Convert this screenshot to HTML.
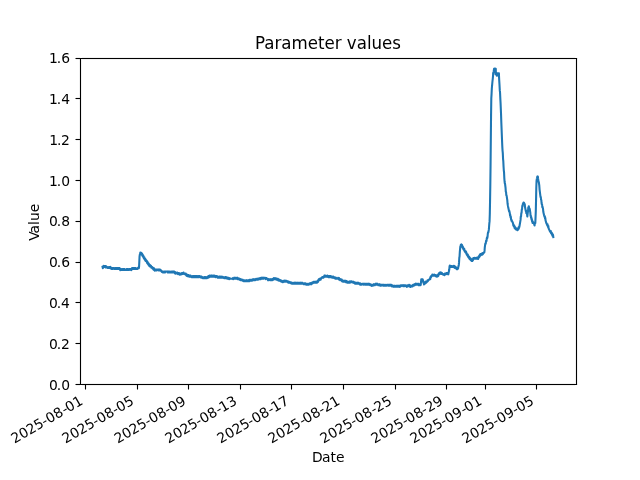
<!DOCTYPE html>
<html lang="en">
<head>
<meta charset="utf-8">
<title>Parameter values</title>
<style>
html,body{margin:0;padding:0;background:#ffffff;width:640px;height:480px;overflow:hidden}
svg{display:block}
text{font-family:"DejaVu Sans","Liberation Sans",sans-serif;fill:#000000;white-space:pre}
.t10{font-size:13.889px}
.t12{font-size:16.667px}
</style>
</head>
<body>
<svg width="640" height="480" viewBox="0 0 640 480" role="img" aria-label="Parameter values">
<rect x="0" y="0" width="640" height="480" fill="#ffffff"/>
<defs><clipPath id="axclip"><rect x="80" y="57.6" width="496" height="326.4"/></clipPath></defs>
<g clip-path="url(#axclip)"><path d="M102.55 266.8L102.8 268.13L103.05 267.62L103.3 267.62L103.55 265.89L103.8 265.96L104.05 266.93L104.3 266.93L104.55 265.96L104.8 265.96L105.05 266.93L105.3 265.96L105.55 265.93L105.8 267.51L106.05 266.4L106.3 266.41L106.55 267.45L106.8 267.44L107.05 266.98L107.3 266.98L107.55 267.95L107.8 267.95L108.05 267.95L108.3 267.95L108.55 267.95L108.8 266.98L109.05 266.98L109.3 267.95L109.55 266.98L109.8 266.98L110.05 266.98L110.3 266.89L110.55 268.43L110.8 267.38L111.05 267.96L111.3 268L111.55 268.97L111.8 268L112.05 268.97L112.3 268L112.55 268L112.8 268.97L113.05 268L113.3 268L113.55 268L113.8 268L114.05 268L114.3 268.97L114.55 268.97L114.8 268.97L115.05 268L115.3 268.97L115.55 268L115.8 268.97L116.05 268.97L116.3 268L116.55 268.97L116.8 268L117.05 268L117.3 268.97L117.55 268L117.8 268.97L118.05 268L118.3 268L118.55 268L118.8 268.97L119.05 268L119.3 268.97L119.55 268L119.8 269.18L120.05 269.8L120.3 270.18L120.55 269.02L120.8 269.02L121.05 269.99L121.3 269.99L121.55 269.99L121.8 269.02L122.05 269.02L122.3 269.02L122.55 269.02L122.8 269.99L123.05 269.99L123.3 269.99L123.55 269.02L123.8 269.99L124.05 269.99L124.3 269.02L124.55 269.02L124.8 269.99L125.05 269.99L125.3 269.99L125.55 269.99L125.8 269.99L126.05 269.99L126.3 269.99L126.55 269.02L126.8 269.02L127.05 269.99L127.3 269.99L127.55 269.02L127.8 269.99L128.05 269.99L128.3 269.99L128.55 269.99L128.8 269.02L129.05 269.99L129.3 269.99L129.55 269.02L129.8 269.02L130.05 269.02L130.3 269.02L130.55 269.02L130.8 269.99L131.05 269.99L131.3 270.18L131.55 269.8L131.8 269.18L132.05 268L132.3 268L132.55 268.97L132.8 268L133.05 268.97L133.3 268L133.55 268.97L133.8 268.97L134.05 268L134.3 268.97L134.55 268L134.8 268.97L135.05 268.97L135.3 268L135.55 268L135.8 268L136.05 268.97L136.3 268.97L136.55 268.97L136.8 268.97L137.05 268.97L137.3 268.97L137.55 268.97L137.8 268L138.05 267.98L138.3 267.46L138.55 267.27L138.8 268.3L139.05 267.05L139.3 261.87L139.55 256.41L139.8 254.74L140.05 254.4L140.3 252.63L140.55 252.7L140.8 253.67L141.05 252.7L141.3 254.2L141.55 254.27L141.8 254.79L142.05 253.59L142.3 255.6L142.55 254.41L142.8 256.41L143.05 255.22L143.3 255.62L143.55 257.63L143.8 258.04L144.05 258.44L144.3 257.25L144.55 259.26L144.8 259.66L145.05 258.47L145.3 258.88L145.55 260.87L145.8 261.21L146.05 259.94L146.3 260.28L146.55 260.62L146.8 260.96L147.05 262.89L147.3 261.63L147.55 261.97L147.8 263.91L148.05 264.25L148.3 262.98L148.55 264.92L148.8 263.66L149.05 265.57L149.3 264.4L149.55 266.06L149.8 264.79L150.05 266.57L150.3 265.3L150.55 266.57L150.8 265.81L151.05 265.81L151.3 267.59L151.55 267.59L151.8 266.83L152.05 266.83L152.3 268.1L152.55 268.61L152.8 268.61L153.05 267.85L153.3 267.85L153.55 269.63L153.8 269.63L154.05 268.36L154.3 270.13L154.55 268.9L154.8 270.62L155.05 269.45L155.3 269.52L155.55 270.5L155.8 270.5L156.05 270.5L156.3 269.53L156.55 270.5L156.8 270.5L157.05 269.53L157.3 269.53L157.55 269.53L157.8 269.53L158.05 269.53L158.3 269.53L158.55 270.5L158.8 269.53L159.05 270.5L159.3 270.5L159.55 269.53L159.8 270.5L160.05 270.57L160.3 269.87L160.55 269.87L160.8 270.38L161.05 270.38L161.3 270.91L161.55 271L161.8 272.04L162.05 272.04L162.3 271.56L162.55 271.56L162.8 272.55L163.05 271.56L163.3 272.55L163.55 272.54L163.8 272.54L164.05 272.54L164.3 271.57L164.55 271.57L164.8 271.57L165.05 272.54L165.3 271.57L165.55 271.57L165.8 271.57L166.05 271.57L166.3 271.57L166.55 271.57L166.8 271.57L167.05 271.57L167.3 271.57L167.55 272.54L167.8 271.57L168.05 272.54L168.3 272.54L168.55 271.57L168.8 272.54L169.05 272.54L169.3 272.54L169.55 271.57L169.8 272.54L170.05 272.54L170.3 272.54L170.55 272.54L170.8 272.54L171.05 271.57L171.3 272.54L171.55 272.54L171.8 272.54L172.05 271.57L172.3 272.54L172.55 272.54L172.8 271.57L173.05 271.57L173.3 271.57L173.55 272.54L173.8 271.57L174.05 271.57L174.3 271.57L174.55 272.59L174.8 273.18L175.05 271.95L175.3 273.67L175.55 273.58L175.8 272.59L176.05 273.56L176.3 273.57L176.55 273.57L176.8 273.57L177.05 273.57L177.3 272.58L177.55 273.09L177.8 274.08L178.05 273.09L178.3 273.09L178.55 274.08L178.8 273.09L179.05 274.08L179.3 274.08L179.55 274.59L179.8 273.6L180.05 274.59L180.3 274.58L180.55 274.58L180.8 273.6L181.05 274.59L181.3 273.6L181.55 274.08L181.8 273.09L182.05 273.09L182.3 274.08L182.55 274.08L182.8 273.09L183.05 274.08L183.3 273.57L183.55 272.58L183.8 273.57L184.05 273.56L184.3 273.64L184.55 274.18L184.8 274.18L185.05 274.18L185.3 273.5L185.55 273.5L185.8 273.5L186.05 275.2L186.3 275.2L186.55 275.71L186.8 274.52L187.05 274.53L187.3 276.15L187.55 276.13L187.8 276.13L188.05 276.13L188.3 275.12L188.55 276.13L188.8 276.13L189.05 276.64L189.3 275.63L189.55 275.63L189.8 275.63L190.05 276.64L190.3 276.64L190.55 275.63L190.8 276.15L191.05 276.16L191.3 276.16L191.55 277.12L191.8 277.12L192.05 277.12L192.3 276.16L192.55 277.12L192.8 277.12L193.05 277.12L193.3 276.16L193.55 277.12L193.8 276.16L194.05 276.16L194.3 277.12L194.55 276.16L194.8 276.16L195.05 277.12L195.3 276.16L195.55 276.16L195.8 277.12L196.05 276.16L196.3 276.16L196.55 276.16L196.8 277.12L197.05 276.16L197.3 277.12L197.55 276.16L197.8 277.12L198.05 277.12L198.3 277.13L198.55 276.16L198.8 276.15L199.05 277.14L199.3 277.14L199.55 276.15L199.8 276.15L200.05 276.66L200.3 276.66L200.55 276.66L200.8 276.66L201.05 277.65L201.3 276.66L201.55 277.65L201.8 276.66L202.05 277.17L202.3 277.18L202.55 277.18L202.8 278.14L203.05 277.18L203.3 277.18L203.55 278.14L203.8 278.14L204.05 278.14L204.3 278.14L204.55 277.18L204.8 278.14L205.05 277.18L205.3 278.14L205.55 277.18L205.8 278.14L206.05 277.18L206.3 277.18L206.55 277.18L206.8 278.14L207.05 278.15L207.3 277.16L207.55 277.69L207.8 276.62L208.05 277.69L208.3 277.69L208.55 276.11L208.8 277.18L209.05 277.18L209.3 277.18L209.55 275.61L209.8 276.62L210.05 276.62L210.3 276.62L210.55 276.62L210.8 275.65L211.05 276.62L211.3 275.65L211.55 275.65L211.8 276.62L212.05 275.65L212.3 276.62L212.55 276.62L212.8 275.65L213.05 275.65L213.3 276.62L213.55 276.62L213.8 275.65L214.05 276.62L214.3 276.62L214.55 276.62L214.8 275.65L215.05 276.63L215.3 277.14L215.55 277.14L215.8 276.15L216.05 276.15L216.3 276.15L216.55 276.15L216.8 276.15L217.05 276.15L217.3 276.66L217.55 277.65L217.8 276.66L218.05 277.65L218.3 277.65L218.55 276.67L218.8 276.67L219.05 277.64L219.3 277.64L219.55 276.67L219.8 277.64L220.05 276.67L220.3 277.64L220.55 276.67L220.8 277.64L221.05 277.64L221.3 277.64L221.55 276.67L221.8 277.64L222.05 277.64L222.3 276.67L222.55 276.67L222.8 276.67L223.05 277.64L223.3 277.18L223.55 277.18L223.8 277.18L224.05 278.15L224.3 278.15L224.55 277.18L224.8 277.18L225.05 278.15L225.3 277.18L225.55 278.15L225.8 277.18L226.05 278.16L226.3 277.16L226.55 278.17L226.8 278.17L227.05 278.17L227.3 278.68L227.55 277.67L227.8 278.68L228.05 277.67L228.3 277.67L228.55 277.67L228.8 278.18L229.05 279.19L229.3 279.19L229.55 278.18L229.8 278.18L230.05 278.18L230.3 278.69L230.55 278.69L230.8 278.69L231.05 278.69L231.3 278.69L231.55 278.71L231.8 278.69L232.05 278.68L232.3 278.68L232.55 278.68L232.8 278.17L233.05 279.2L233.3 279.2L233.55 278.17L233.8 278.17L234.05 278.69L234.3 277.66L234.55 278.69L234.8 278.66L235.05 278.66L235.3 277.69L235.55 277.69L235.8 277.69L236.05 278.66L236.3 278.66L236.55 278.66L236.8 278.66L237.05 278.66L237.3 277.68L237.55 279.19L237.8 278.18L238.05 278.18L238.3 278.18L238.55 278.18L238.8 278.69L239.05 278.69L239.3 279.7L239.55 278.69L239.8 278.69L240.05 279.7L240.3 279.2L240.55 280.21L240.8 280.21L241.05 279.2L241.3 280.21L241.55 280.21L241.8 279.71L242.05 279.71L242.3 279.71L242.55 280.72L242.8 279.71L243.05 280.72L243.3 280.22L243.55 281.21L243.8 281.21L244.05 281.21L244.3 281.21L244.55 280.25L244.8 280.25L245.05 281.21L245.3 281.21L245.55 281.21L245.8 281.21L246.05 280.25L246.3 281.21L246.55 280.25L246.8 281.21L247.05 281.21L247.3 281.21L247.55 281.21L247.8 280.25L248.05 281.21L248.3 280.24L248.55 280.24L248.8 280.24L249.05 280.24L249.3 281.21L249.55 279.73L249.8 280.7L250.05 280.7L250.3 280.7L250.55 279.73L250.8 279.73L251.05 280.7L251.3 280.7L251.55 279.73L251.8 279.73L252.05 280.7L252.3 279.73L252.55 280.19L252.8 279.22L253.05 279.22L253.3 280.19L253.55 279.22L253.8 280.19L254.05 280.19L254.3 279.22L254.55 279.22L254.8 279.22L255.05 280.19L255.3 280.19L255.55 279.22L255.8 279.68L256.05 278.71L256.3 278.71L256.55 279.68L256.8 279.68L257.05 279.68L257.3 278.71L257.55 279.68L257.8 278.71L258.05 279.68L258.3 279.17L258.55 279.17L258.8 279.17L259.05 278.2L259.3 278.2L259.55 279.17L259.8 278.2L260.05 279.17L260.3 279.17L260.55 278.2L260.8 279.17L261.05 277.69L261.3 278.66L261.55 277.69L261.8 277.69L262.05 277.69L262.3 277.69L262.55 278.66L262.8 277.69L263.05 278.66L263.3 277.69L263.55 278.66L263.8 278.66L264.05 277.69L264.3 277.69L264.55 277.69L264.8 277.69L265.05 277.69L265.3 277.69L265.55 278.18L265.8 279.21L266.05 278.16L266.3 278.16L266.55 278.16L266.8 278.67L267.05 278.67L267.3 278.67L267.55 278.67L267.8 278.67L268.05 280.23L268.3 280.22L268.55 279.22L268.8 280.19L269.05 279.22L269.3 279.22L269.55 279.22L269.8 279.22L270.05 279.22L270.3 280.19L270.55 279.22L270.8 280.19L271.05 280.19L271.3 279.22L271.55 280.19L271.8 280.21L272.05 279.19L272.3 280.22L272.55 279.71L272.8 278.68L273.05 278.68L273.3 279.71L273.55 278.68L273.8 278.17L274.05 279.2L274.3 278.17L274.55 278.18L274.8 278.2L275.05 278.19L275.3 279.18L275.55 278.19L275.8 278.19L276.05 278.19L276.3 279.69L276.55 279.69L276.8 278.7L277.05 278.7L277.3 279.69L277.55 279.69L277.8 278.69L278.05 280.23L278.3 280.24L278.55 279.17L278.8 280.24L279.05 280.75L279.3 279.68L279.55 279.68L279.8 279.68L280.05 280.19L280.3 280.19L280.55 281.26L280.8 280.19L281.05 280.7L281.3 281.77L281.55 281.77L281.8 280.7L282.05 281.22L282.3 281.26L282.55 282.23L282.8 282.23L283.05 282.23L283.3 281.26L283.55 280.75L283.8 281.72L284.05 280.75L284.3 281.72L284.55 280.75L284.8 281.72L285.05 280.75L285.3 281.72L285.55 280.75L285.8 280.75L286.05 280.75L286.3 280.73L286.55 280.73L286.8 281.24L287.05 281.24L287.3 282.25L287.55 282.25L287.8 281.24L288.05 281.24L288.3 282.25L288.55 282.76L288.8 281.75L289.05 281.75L289.3 281.75L289.55 282.76L289.8 282.76L290.05 282.26L290.3 282.26L290.55 283.27L290.8 282.26L291.05 282.26L291.3 283.27L291.55 282.77L291.8 283.78L292.05 283.78L292.3 283.78L292.55 283.78L292.8 282.79L293.05 282.79L293.3 283.76L293.55 283.76L293.8 283.76L294.05 282.79L294.3 283.76L294.55 282.79L294.8 282.79L295.05 283.76L295.3 282.79L295.55 283.76L295.8 282.79L296.05 282.79L296.3 283.76L296.55 283.76L296.8 282.79L297.05 283.76L297.3 282.79L297.55 282.79L297.8 282.79L298.05 282.79L298.3 283.76L298.55 283.76L298.8 282.79L299.05 283.76L299.3 283.76L299.55 283.76L299.8 282.79L300.05 283.76L300.3 282.79L300.55 282.79L300.8 283.76L301.05 282.79L301.3 282.79L301.55 282.79L301.8 282.79L302.05 283.76L302.3 282.79L302.55 282.79L302.8 283.76L303.05 283.76L303.3 283.76L303.55 283.76L303.8 284.28L304.05 284.28L304.3 283.29L304.55 283.29L304.8 284.28L305.05 284.28L305.3 283.29L305.55 284.28L305.8 283.8L306.05 284.79L306.3 284.79L306.55 283.8L306.8 283.8L307.05 283.81L307.3 283.81L307.55 284.78L307.8 284.78L308.05 284.78L308.3 283.81L308.55 284.78L308.8 284.78L309.05 283.81L309.3 283.81L309.55 284.27L309.8 283.3L310.05 284.27L310.3 283.3L310.55 284.27L310.8 284.28L311.05 283.27L311.3 284.32L311.55 282.74L311.8 283.81L312.05 283.81L312.3 282.74L312.55 282.23L312.8 283.3L313.05 282.23L313.3 282.24L313.55 281.76L313.8 281.77L314.05 282.74L314.3 282.74L314.55 281.77L314.8 281.77L315.05 281.77L315.3 282.74L315.55 281.77L315.8 281.77L316.05 282.74L316.3 281.77L316.55 282.74L316.8 282.74L317.05 282.74L317.3 281.63L317.55 281.04L317.8 280.71L318.05 281.97L318.3 280.03L318.55 279.69L318.8 279.36L319.05 279.14L319.3 280.26L319.55 279.17L319.8 279.73L320.05 278.66L320.3 279.73L320.55 279.73L320.8 279.22L321.05 278.15L321.3 278.15L321.55 278.11L321.8 277.54L322.05 277.53L322.3 277.02L322.55 277.02L322.8 277.02L323.05 277.8L323.3 277.8L323.55 277.29L323.8 277.29L324.05 276.68L324.3 275.65L324.55 275.65L324.8 276.62L325.05 275.65L325.3 276.62L325.55 276.62L325.8 275.65L326.05 276.62L326.3 276.62L326.55 276.62L326.8 276.62L327.05 276.62L327.3 275.65L327.55 275.65L327.8 276.16L328.05 276.16L328.3 277.13L328.55 276.16L328.8 276.16L329.05 276.16L329.3 277.13L329.55 276.16L329.8 276.16L330.05 277.13L330.3 276.16L330.55 276.15L330.8 277.14L331.05 276.15L331.3 277.14L331.55 277.14L331.8 276.66L332.05 277.65L332.3 276.66L332.55 277.65L332.8 277.65L333.05 276.66L333.3 276.66L333.55 277.65L333.8 277.17L334.05 277.17L334.3 278.16L334.55 277.17L334.8 277.17L335.05 278.16L335.3 278.16L335.55 278.67L335.8 278.67L336.05 277.68L336.3 278.66L336.55 278.66L336.8 278.66L337.05 278.66L337.3 278.66L337.55 278.66L337.8 278.66L338.05 277.69L338.3 278.2L338.55 278.17L338.8 279.24L339.05 278.13L339.3 279.75L339.55 279.75L339.8 279.75L340.05 279.75L340.3 280.26L340.55 279.15L340.8 280.26L341.05 280.26L341.3 279.66L341.55 279.66L341.8 279.66L342.05 281.28L342.3 280.17L342.55 280.17L342.8 281.25L343.05 281.72L343.3 280.75L343.55 280.75L343.8 280.75L344.05 280.75L344.3 280.75L344.55 281.72L344.8 280.75L345.05 281.72L345.3 281.72L345.55 280.73L345.8 280.72L346.05 282.26L346.3 281.23L346.55 282.26L346.8 281.23L347.05 282.26L347.3 282.77L347.55 282.77L347.8 281.74L348.05 281.74L348.3 282.76L348.55 282.74L348.8 281.75L349.05 281.75L349.3 282.76L349.55 282.76L349.8 282.76L350.05 281.24L350.3 282.25L350.55 282.25L350.8 282.25L351.05 282.25L351.3 281.24L351.55 281.26L351.8 282.27L352.05 282.28L352.3 282.28L352.55 282.28L352.8 281.72L353.05 282.79L353.3 281.72L353.55 281.72L353.8 282.23L354.05 282.23L354.3 283.3L354.55 282.23L354.8 282.74L355.05 283.81L355.3 282.77L355.55 283.76L355.8 282.79L356.05 283.75L356.3 283.75L356.55 283.75L356.8 282.79L357.05 283.75L357.3 282.79L357.55 282.79L357.8 282.79L358.05 283.75L358.3 282.79L358.55 282.78L358.8 283.79L359.05 283.27L359.3 283.27L359.55 284.3L359.8 284.3L360.05 283.27L360.3 284.81L360.55 284.81L360.8 284.81L361.05 284.78L361.3 284.78L361.55 284.78L361.8 283.81L362.05 283.81L362.3 283.81L362.55 283.81L362.8 283.81L363.05 283.81L363.3 284.78L363.55 283.81L363.8 283.81L364.05 283.81L364.3 283.81L364.55 283.81L364.8 284.78L365.05 283.81L365.3 283.81L365.55 283.81L365.8 284.78L366.05 284.78L366.3 283.81L366.55 283.81L366.8 283.81L367.05 284.78L367.3 284.78L367.55 283.81L367.8 283.81L368.05 284.78L368.3 284.78L368.55 283.81L368.8 284.78L369.05 283.81L369.3 283.8L369.55 284.79L369.8 284.31L370.05 285.3L370.3 285.3L370.55 284.31L370.8 285.3L371.05 285.3L371.3 285.3L371.55 285.81L371.8 284.82L372.05 284.82L372.3 285.8L372.55 285.81L372.8 285.81L373.05 285.3L373.3 285.3L373.55 284.31L373.8 285.3L374.05 284.31L374.3 285.3L374.55 285.3L374.8 285.3L375.05 284.79L375.3 284.79L375.55 283.8L375.8 284.79L376.05 283.8L376.3 284.79L376.55 284.78L376.8 283.8L377.05 284.8L377.3 283.79L377.55 284.8L377.8 284.8L378.05 284.8L378.3 285.31L378.55 285.31L378.8 284.3L379.05 284.3L379.3 285.31L379.55 284.3L379.8 284.81L380.05 285.82L380.3 285.81L380.55 284.83L380.8 284.83L381.05 285.8L381.3 284.83L381.55 284.83L381.8 284.83L382.05 284.83L382.3 284.83L382.55 284.83L382.8 284.83L383.05 285.8L383.3 284.83L383.55 284.83L383.8 284.83L384.05 284.83L384.3 285.8L384.55 285.8L384.8 285.8L385.05 284.83L385.3 284.83L385.55 285.8L385.8 285.8L386.05 285.8L386.3 285.8L386.55 285.8L386.8 284.83L387.05 284.83L387.3 284.83L387.55 284.83L387.8 284.83L388.05 285.8L388.3 285.8L388.55 284.83L388.8 284.83L389.05 285.8L389.3 285.8L389.55 284.83L389.8 285.8L390.05 285.8L390.3 284.83L390.55 285.8L390.8 285.8L391.05 284.82L391.3 284.8L391.55 285.83L391.8 286.34L392.05 285.31L392.3 285.31L392.55 286.34L392.8 286.34L393.05 286.34L393.3 285.82L393.55 285.82L393.8 286.85L394.05 286.83L394.3 286.82L394.55 285.85L394.8 286.81L395.05 285.85L395.3 286.81L395.55 286.81L395.8 286.81L396.05 286.81L396.3 286.81L396.55 285.85L396.8 286.81L397.05 285.85L397.3 285.85L397.55 285.85L397.8 286.81L398.05 285.85L398.3 285.85L398.55 286.81L398.8 285.85L399.05 285.85L399.3 285.84L399.55 286.84L399.8 286.84L400.05 286.84L400.3 285.83L400.55 285.32L400.8 286.33L401.05 286.32L401.3 285.34L401.55 285.34L401.8 285.34L402.05 285.34L402.3 285.34L402.55 285.34L402.8 285.34L403.05 286.31L403.3 285.34L403.55 286.31L403.8 286.31L404.05 285.34L404.3 286.31L404.55 286.31L404.8 285.34L405.05 285.34L405.3 285.34L405.55 285.34L405.8 285.85L406.05 285.85L406.3 285.85L406.55 286.82L406.8 286.86L407.05 286.37L407.3 285.28L407.55 285.28L407.8 286.37L408.05 285.86L408.3 285.84L408.55 285.8L408.8 285.85L409.05 284.78L409.3 286.36L409.55 285.29L409.8 286.36L410.05 285.29L410.3 286.87L410.55 286.87L410.8 286.85L411.05 285.85L411.3 285.8L411.55 285.8L411.8 285.8L412.05 286.36L412.3 286.36L412.55 285.29L412.8 286.36L413.05 284.78L413.3 284.78L413.55 284.78L413.8 284.78L414.05 285.34L414.3 284.27L414.55 284.27L414.8 285.34L415.05 284.83L415.3 283.76L415.55 284.83L415.8 283.77L416.05 284.27L416.3 283.8L416.55 283.8L416.8 284.79L417.05 284.79L417.3 284.79L417.55 283.8L417.8 283.8L418.05 284.79L418.3 284.79L418.55 283.8L418.8 285.3L419.05 285.3L419.3 284.31L419.55 284.31L419.8 285.3L420.05 285.3L420.3 285.3L420.55 285.3L420.8 284.2L421.05 281.7L421.3 279.2L421.55 280.7L421.8 279.73L422.05 279.22L422.3 280.19L422.55 279.22L422.8 280.7L423.05 280.12L423.3 282.75L423.55 282.18L423.8 283.2L424.05 284.42L424.3 283.15L424.55 282.64L424.8 283.91L425.05 283.4L425.3 282.13L425.55 282.89L425.8 281.62L426.05 282.89L426.3 282.38L426.55 282.38L426.8 281.87L427.05 281.86L427.3 281.3L427.55 280.19L427.8 281.26L428.05 280.19L428.3 280.19L428.55 279.68L428.8 279.68L429.05 279.68L429.3 279.68L429.55 279.12L429.8 278.82L430.05 278.18L430.3 279.14L430.55 276.9L430.8 276.25L431.05 277.21L431.3 276.57L431.55 275.93L431.8 275.61L432.05 275.6L432.3 274.63L432.55 275.6L432.8 275.6L433.05 275.6L433.3 275.6L433.55 275.6L433.8 275.6L434.05 274.63L434.3 274.63L434.55 275.6L434.8 275.63L435.05 275.67L435.3 275.67L435.55 276.18L435.8 275.07L436.05 276.18L436.3 275.58L436.55 275.58L436.8 276.69L437.05 276.65L437.3 276.09L437.55 275.29L437.8 274.95L438.05 276.21L438.3 275.87L438.55 273.93L438.8 273.59L439.05 273.25L439.3 272.91L439.55 274.12L439.8 272.55L440.05 272.59L440.3 273.56L440.55 272.59L440.8 273.56L441.05 272.59L441.3 274.07L441.55 274.07L441.8 273.1L442.05 273.1L442.3 274.11L442.55 274.14L442.8 274.14L443.05 274.65L443.3 274.65L443.55 274.65L443.8 274.05L444.05 275.09L444.3 275.12L444.55 275.14L444.8 273.56L445.05 273.56L445.3 273.56L445.55 273.56L445.8 274.12L446.05 274.12L446.3 274.12L446.55 273.1L446.8 274.07L447.05 274.08L447.3 273.09L447.55 274.08L447.8 273.09L448.05 274.09L448.3 274.3L448.55 273.05L448.8 271.8L449.05 270.55L449.3 269.3L449.55 266.45L449.8 265.45L450.05 266.93L450.3 266.93L450.55 266.93L450.8 265.96L451.05 265.96L451.3 265.96L451.55 266.93L451.8 265.96L452.05 265.96L452.3 266.93L452.55 266.93L452.8 266.93L453.05 266.93L453.3 265.96L453.55 266.96L453.8 265.87L454.05 267.02L454.3 267.53L454.55 267.53L454.8 266.38L455.05 268.04L455.3 266.89L455.55 266.89L455.8 267.4L456.05 267.4L456.3 268.55L456.55 269.06L456.8 267.91L457.05 269.02L457.3 267.98L457.55 269.13L457.8 268.88L458.05 268.63L458.3 266.9L458.55 266.14L458.8 264.94L459.05 262.15L459.3 257.75L459.55 256.56L459.8 252.16L460.05 249.36L460.3 246.57L460.55 246.86L460.8 244.98L461.05 244.67L461.3 244.36L461.55 245.51L461.8 245.97L462.05 244.9L462.3 247.03L462.55 247.56L462.8 246.49L463.05 248.54L463.3 248.95L463.55 249.35L463.8 249.75L464.05 248.55L464.3 248.96L464.55 250.96L464.8 251.36L465.05 251.77L465.3 252.17L465.55 252.57L465.8 251.38L466.05 251.78L466.3 252.18L466.55 254.18L466.8 254.58L467.05 254.98L467.3 255.38L467.55 254.18L467.8 254.58L468.05 256.58L468.3 256.98L468.55 257.38L468.8 257.78L469.05 256.58L469.3 256.98L469.55 258.98L469.8 257.8L470.05 258.14L470.3 258.14L470.55 259.96L470.8 258.65L471.05 259.16L471.3 259.16L471.55 260.98L471.8 260.91L472.05 260.85L472.3 260.98L472.55 259.03L472.8 260.28L473.05 259.93L473.3 258.01L473.55 258.84L473.8 258.76L474.05 258.76L474.3 258.76L474.55 257.8L474.8 257.8L475.05 258.76L475.3 258.76L475.55 258.76L475.8 258.76L476.05 258.76L476.3 257.8L476.55 257.8L476.8 258.76L477.05 257.8L477.3 258.76L477.55 257.8L477.8 258.81L478.05 259.02L478.3 258.7L478.55 256.72L478.8 256.35L479.05 255.97L479.3 257.2L479.55 255.22L479.8 256.45L480.05 254.47L480.3 254.16L480.55 254.14L480.8 255.24L481.05 254.19L481.3 253.68L481.55 253.68L481.8 254.73L482.05 254.73L482.3 254.22L482.55 253.17L482.8 254.22L483.05 253.17L483.3 253.17L483.55 252.66L483.8 252.66L484.05 252.32L484.3 252.46L484.55 250.66L484.8 247.27L485.05 245.47L485.3 243.67L485.55 244.04L485.8 243.2L486.05 240.75L486.3 241.51L486.55 240.66L486.8 238.22L487.05 237.38L487.3 238.03L487.55 236.68L487.8 233.73L488.05 232.38L488.3 232.62L488.55 231.27L488.8 229.92L489.05 226.97L489.3 223.62L489.55 221.38L489.8 214.2L490.05 201.07L490.3 185.45L490.55 165.8L490.8 140.8L491.05 115.45L491.3 98.3L491.55 94.34L491.8 88.78L492.4 82L492.8 78.5L493.1 75.2L493.15 73L493.7 71.5L494.05 68.8L494.9 68.6L495.5 74.2L495.8 68.9L495.8 71.5L496.2 73.5L496.8 75.8L497.4 73.3L497.9 75.5L498.4 73.2L498.9 73.3L499 76L499.2 80L499.45 84L499.8 90.38L500.05 92.74L500.3 98.3L500.55 102.62L500.8 108.54L501.05 114.46L501.3 122.05L501.55 128.3L501.8 134.55L502.05 140.8L502.3 146.61L502.55 150.68L502.8 153.14L503.05 158.8L503.3 161.2L503.55 166.55L503.8 170.3L504.05 172.45L504.3 177.8L504.55 181.22L504.8 183.3L505.05 183.78L505.3 185.87L505.55 187.95L505.8 191.63L506.05 192.03L506.3 195.27L506.55 195.32L506.8 196.96L507.05 198.61L507.3 200.25L507.55 203.5L507.8 205.14L508.05 206.51L508.3 207.69L508.55 208.87L508.8 210.06L509.05 211.24L509.3 210.82L509.55 212L509.8 213.13L510.05 215.6L510.3 214.88L510.55 217.35L510.8 216.63L511.05 219.1L511.3 219.98L511.55 220.85L511.8 220.13L512.05 221L512.3 221.8L512.55 222.3L512.8 222.8L513.05 223.3L513.3 225.4L513.55 225.9L513.8 226.4L514.05 225.3L514.3 225.8L514.55 227.9L514.8 228.35L515.05 227.03L515.3 227.54L515.55 228.85L515.8 229.36L516.05 229.36L516.3 229.36L516.55 228.56L516.8 228.56L517.05 229.14L517.3 230.24L517.55 230.19L517.8 229.88L518.05 229.57L518.3 229.26L518.55 227.42L518.8 228.64L519.05 226.76L519.3 227.16L519.55 225.73L519.8 224.3L520.05 222.87L520.3 221.44L520.55 219.94L520.8 216.57L521.05 216.39L521.3 213.02L521.55 212.84L521.8 209.46L522.05 209.29L522.3 205.91L522.55 206.44L522.8 204.25L523.05 203.65L523.3 203.05L523.55 202.46L523.8 203.82L524.05 202.86L524.3 203.41L524.55 203.95L524.8 204.5L525.05 207.33L525.3 208.56L525.55 209.79L525.8 211.02L526.05 210.65L526.3 213.17L526.55 212.4L526.8 213.23L527.05 214.07L527.3 216.5L527.55 214.5L527.8 212.5L528.05 210.5L528.3 207.44L528.55 208.4L528.8 206.22L529.05 208.1L529.3 209.1L529.55 208.5L529.8 209.5L530.05 211.08L530.3 212.67L530.55 215.85L530.8 215.53L531.05 217.97L531.3 217.2L531.55 219.63L531.8 218.87L532.05 221.3L532.3 220.53L532.55 222.88L532.8 221.71L533.05 222.13L533.3 222.55L533.55 222.97L533.8 223.39L534.05 223.81L534.3 224.64L534.55 225.52L534.8 223.12L535.05 222.32L535.3 223.12L535.55 217.42L535.8 211.12L536.05 199.88L536.3 187.52L536.55 180.85L536.8 179.06L537.05 178.21L537.3 176.62L537.55 177.73L537.8 176.48L538.05 178.43L538.3 180.08L538.55 181.77L538.8 182.01L539.05 183.86L539.3 185.7L539.55 189.3L539.8 191.3L540.05 193.3L540.3 195.3L540.55 197.09L540.8 196.96L541.05 200.03L541.3 199.9L541.55 202.97L541.8 204.45L542.05 204.32L542.3 207.26L542.55 206.79L542.8 207.93L543.05 209.07L543.3 211.81L543.55 212.95L543.8 214.09L544.05 215.17L544.3 216.04L544.55 216.91L544.8 216.18L545.05 218.65L545.3 217.92L545.55 220.39L545.8 221.26L546.05 222.13L546.3 223L546.55 223.57L546.8 224.15L547.05 224.72L547.3 225.29L547.55 224.27L547.8 226.44L548.05 227.01L548.3 225.99L548.55 228.16L548.8 228.74L549.05 229.31L549.3 229.88L549.55 230.46L549.8 230.97L550.05 231.41L550.3 231.84L550.55 232.28L550.8 231.11L551.05 233.14L551.3 233.58L551.55 232.41L551.8 232.85L552.05 234.88L552.3 233.72L552.55 235.75L552.8 234.58L553.05 235.02L553.3 237.05" fill="none" stroke="#1f77b4" stroke-width="2.083" stroke-linejoin="round" stroke-linecap="square"/></g>
<g stroke="#000000" stroke-width="1.111" fill="none">
<line x1="85.5" y1="384.5" x2="85.5" y2="389.5"/>
<line x1="137.5" y1="384.5" x2="137.5" y2="389.5"/>
<line x1="188.5" y1="384.5" x2="188.5" y2="389.5"/>
<line x1="240.5" y1="384.5" x2="240.5" y2="389.5"/>
<line x1="291.5" y1="384.5" x2="291.5" y2="389.5"/>
<line x1="343.5" y1="384.5" x2="343.5" y2="389.5"/>
<line x1="395.5" y1="384.5" x2="395.5" y2="389.5"/>
<line x1="446.5" y1="384.5" x2="446.5" y2="389.5"/>
<line x1="485.5" y1="384.5" x2="485.5" y2="389.5"/>
<line x1="536.5" y1="384.5" x2="536.5" y2="389.5"/>
<line x1="75.5" y1="384.5" x2="80.5" y2="384.5"/>
<line x1="75.5" y1="343.5" x2="80.5" y2="343.5"/>
<line x1="75.5" y1="302.5" x2="80.5" y2="302.5"/>
<line x1="75.5" y1="262.5" x2="80.5" y2="262.5"/>
<line x1="75.5" y1="221.5" x2="80.5" y2="221.5"/>
<line x1="75.5" y1="180.5" x2="80.5" y2="180.5"/>
<line x1="75.5" y1="139.5" x2="80.5" y2="139.5"/>
<line x1="75.5" y1="98.5" x2="80.5" y2="98.5"/>
<line x1="75.5" y1="58.5" x2="80.5" y2="58.5"/>
<line x1="80.5" y1="57.944" x2="80.5" y2="385.056"/>
<line x1="576.5" y1="57.944" x2="576.5" y2="385.056"/>
<line x1="79.944" y1="384.5" x2="577.056" y2="384.5"/>
<line x1="79.944" y1="58.5" x2="577.056" y2="58.5"/>
</g>
<g fill="#000000" fill-opacity="0.056">
<rect x="82" y="57" width="493" height="1"/>
<rect x="82" y="59" width="493" height="1"/>
<rect x="82" y="383" width="493" height="1"/>
<rect x="82" y="385" width="493" height="1"/>
</g>
<text class="t10" transform="translate(70.075 390)" x="-21.078 -13.266 -8.844">0.0</text>
<text class="t10" transform="translate(70.95 349)" x="-22.078 -14.266 -9.844">0.2</text>
<text class="t10" transform="translate(70.95 308)" x="-22.078 -14.266 -9.844">0.4</text>
<text class="t10" transform="translate(70.075 267)" x="-21.078 -13.266 -8.844">0.6</text>
<text class="t10" transform="translate(70.075 226)" x="-21.078 -13.266 -8.844">0.8</text>
<text class="t10" transform="translate(70.075 186)" x="-21.078 -13.266 -8.844">1.0</text>
<text class="t10" transform="translate(70.325 145)" x="-21.078 -13.266 -9.344">1.2</text>
<text class="t10" transform="translate(70.075 104)" x="-21.078 -13.266 -8.844">1.4</text>
<text class="t10" transform="translate(70.075 63)" x="-21.078 -13.266 -8.844">1.6</text>
<text class="t10" transform="translate(14.23 443.846) rotate(-30)" x="0.25 9.312 17.891 26.469 35.047 40.062 49.141 58.469 62.719 71.547">2025-08-01</text>
<text class="t10" transform="translate(65.387 443.721) rotate(-30)" x="0 9.062 17.641 26.469 34.797 40.062 48.891 57.719 62.469 71.297">2025-08-05</text>
<text class="t10" transform="translate(117.42 443.846) rotate(-30)" x="0.25 9.062 17.641 26.469 35.047 40.062 49.141 57.969 62.469 71.297">2025-08-09</text>
<text class="t10" transform="translate(168.452 443.721) rotate(-30)" x="0 9.062 17.641 26.469 34.797 39.812 48.891 58.219 62.469 71.297">2025-08-13</text>
<text class="t10" transform="translate(220.235 443.846) rotate(-30)" x="0.25 9.312 17.891 26.469 35.047 40.062 49.141 58.469 62.719 71.547">2025-08-17</text>
<text class="t10" transform="translate(271.392 443.846) rotate(-30)" x="0 9.062 17.641 26.469 36.047 40.062 49.141 57.969 62.719 71.547">2025-08-21</text>
<text class="t10" transform="translate(323.425 443.721) rotate(-30)" x="0 9.062 17.641 26.469 34.797 39.812 48.891 58.219 62.469 71.297">2025-08-25</text>
<text class="t10" transform="translate(374.332 443.846) rotate(-30)" x="0.25 9.062 17.891 26.469 35.547 40.062 49.141 57.469 62.719 71.547">2025-08-29</text>
<text class="t10" transform="translate(413.231 443.846) rotate(-30)" x="0.25 9.312 17.891 26.469 35.047 40.062 49.141 58.469 62.719 71.547">2025-09-01</text>
<text class="t10" transform="translate(465.389 443.721) rotate(-30)" x="0 9.062 17.641 26.469 34.797 40.062 48.891 57.719 62.469 71.297">2025-09-05</text>
<text class="t10" transform="translate(328 461.6)" x="-16.086 -5.914 2.586 8.039">Date</text>
<text class="t10" transform="translate(38.6 222.8) rotate(-90)" x="-18.055 -10.648 -2.148 1.711 10.508">Value</text>
<text class="t12" text-anchor="middle" transform="translate(328 49) scale(1 1.08)">Parameter values</text>
</svg>
</body>
</html>
